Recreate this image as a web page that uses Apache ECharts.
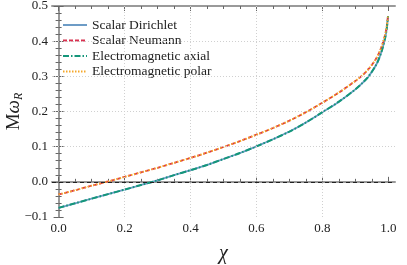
<!DOCTYPE html>
<html>
<head>
<meta charset="utf-8">
<script src="https://cdn.jsdelivr.net/npm/echarts@6/dist/echarts.min.js"></script>
<style>
html,body{margin:0;padding:0;background:#fff;}
#c{width:407px;height:265px;}
</style>
</head>
<body>
<div id="c"></div>
<script>
// ---- data ----
const chi = [0, 0.05, 0.1, 0.15, 0.2, 0.25, 0.3, 0.35, 0.4, 0.45, 0.5, 0.55, 0.6, 0.65, 0.7, 0.75, 0.8, 0.85, 0.9, 0.92, 0.94, 0.96, 0.97, 0.98, 0.99, 0.995, 0.999];
const scalarDirichlet = [-0.074, -0.061, -0.048, -0.035, -0.022, -0.009, 0.004, 0.019, 0.033, 0.048, 0.065, 0.082, 0.101, 0.121, 0.143, 0.169, 0.198, 0.228, 0.263, 0.280, 0.300, 0.328, 0.347, 0.373, 0.409, 0.436, 0.471];
const scalarNeumann = [-0.036, -0.024, -0.011, 0.001, 0.014, 0.027, 0.040, 0.054, 0.068, 0.083, 0.099, 0.116, 0.134, 0.153, 0.174, 0.198, 0.225, 0.254, 0.287, 0.302, 0.321, 0.346, 0.363, 0.386, 0.418, 0.442, 0.474];
const emAxial = [-0.074, -0.061, -0.048, -0.035, -0.022, -0.009, 0.004, 0.019, 0.033, 0.048, 0.065, 0.082, 0.101, 0.121, 0.143, 0.169, 0.198, 0.228, 0.263, 0.280, 0.300, 0.328, 0.347, 0.373, 0.409, 0.436, 0.471];
const emPolar = [-0.036, -0.024, -0.011, 0.001, 0.014, 0.027, 0.040, 0.054, 0.068, 0.083, 0.099, 0.116, 0.134, 0.153, 0.174, 0.198, 0.225, 0.254, 0.287, 0.302, 0.321, 0.346, 0.363, 0.386, 0.418, 0.442, 0.474];
const seriesNames = ['Scalar Dirichlet', 'Scalar Neumann', 'Electromagnetic axial', 'Electromagnetic polar'];
const xMajorTicks = [0, 0.2, 0.4, 0.6, 0.8, 1.0];
const xMinorTicks = [0.05, 0.1, 0.15, 0.25, 0.3, 0.35, 0.45, 0.5, 0.55, 0.65, 0.7, 0.75, 0.85, 0.9, 0.95];

const FONT = "'Liberation Serif','Times New Roman',serif";
const pair = (ys) => chi.map((x, i) => [x, ys[i]]);
const fmt = v => (v < 0 ? '\u2212' : '') + Math.abs(v).toFixed(1);
const frame = {show: true, lineStyle: {color: '#9a9a9a', width: 2}};

function xAx(pos, main, values, len) {
  return {
    type: 'value', position: pos, min: -0.02, max: 1.02,
    axisLine: main ? frame : {show: false},
    axisTick: {show: true, inside: true, length: len, customValues: values, lineStyle: {color: '#666', width: 1}},
    axisLabel: (pos === 'bottom' && main) ? {show: true, customValues: xMajorTicks, formatter: fmt, margin: 5, color: '#222', fontFamily: FONT, fontSize: 13} : {show: false},
    splitLine: {show: false}, minorSplitLine: {show: false}, minorTick: {show: false}
  };
}

const chart = echarts.init(document.getElementById('c'));
chart.setOption({
  backgroundColor: '#fff',
  animation: false,
  textStyle: {fontFamily: FONT},
  grid: {left: 52, right: 12, top: 6, bottom: 48, containLabel: false, outerBoundsMode: 'none'},
  legend: {
    orient: 'vertical', left: 62, top: 18, padding: 0, itemWidth: 24, itemHeight: 13, itemGap: 1.5,
    data: seriesNames,
    itemStyle: {opacity: 0, borderWidth: 0},
    textStyle: {fontFamily: FONT, fontSize: 13.5, color: '#222', lineHeight: 13}
  },
  xAxis: [
    Object.assign(xAx('bottom', true, xMajorTicks, 5), {
      name: 'χ', nameLocation: 'middle', nameGap: 27, nameMoveOverlap: false,
      nameTextStyle: {fontFamily: FONT, fontSize: 20, fontStyle: 'italic', color: '#222'}
    }),
    xAx('bottom', false, xMinorTicks, 3),
    xAx('top', true, xMajorTicks, 5),
    xAx('top', false, xMinorTicks, 3)
  ],
  yAxis: [
    {
      type: 'value', position: 'left', min: -0.1, max: 0.5, interval: 0.1,
      axisLine: frame,
      axisTick: {show: true, inside: true, length: 5, lineStyle: {color: '#666'}},
      minorTick: {show: true, splitNumber: 5, length: 3, lineStyle: {color: '#666'}},
      axisLabel: {formatter: fmt, margin: 4, color: '#222', fontFamily: FONT, fontSize: 13},
      splitLine: {show: false}, minorSplitLine: {show: false},
      name: '{m|M}{w|ω}{r|R}', nameLocation: 'middle', nameGap: 27, nameMoveOverlap: false,
      nameTextStyle: {
        color: '#222',
        rich: {
          m: {fontFamily: FONT, fontSize: 19, lineHeight: 22, color: '#222'},
          w: {fontFamily: FONT, fontSize: 19, fontStyle: 'italic', lineHeight: 22, color: '#222'},
          r: {fontFamily: FONT, fontSize: 12, fontStyle: 'italic', lineHeight: 16, verticalAlign: 'bottom', color: '#222'}
        }
      }
    },
    {
      type: 'value', position: 'right', min: -0.1, max: 0.5, interval: 0.1,
      axisLine: frame,
      axisTick: {show: true, inside: true, length: 5, lineStyle: {color: '#666'}},
      minorTick: {show: true, splitNumber: 5, length: 3, lineStyle: {color: '#666'}},
      axisLabel: {show: false},
      splitLine: {show: false}, minorSplitLine: {show: false}
    }
  ],
  series: [
    {
      type: 'line', data: [], silent: true, xAxisIndex: 0, yAxisIndex: 0,
      markLine: {
        silent: true, symbol: 'none', label: {show: false}, animation: false,
        lineStyle: {color: '#d0d0d0', type: [1, 2], width: 1},
        data: [{xAxis: 0.2}, {xAxis: 0.4}, {xAxis: 0.6}, {xAxis: 0.8},
               {yAxis: 0.1}, {yAxis: 0.2}, {yAxis: 0.3}, {yAxis: 0.4}]
      }
    },
    {
      name: seriesNames[0], type: 'line', data: pair(scalarDirichlet), symbol: 'none', smooth: 0.3,
      lineStyle: {color: '#6d9cc6', width: 1.8, type: 'solid'}, itemStyle: {color: '#6d9cc6'},
      markLine: {
        silent: true, symbol: 'none', label: {show: false},
        lineStyle: {color: '#222', type: [4, 3], width: 1},
        data: [{yAxis: 0}]
      }
    },
    {
      name: seriesNames[1], type: 'line', data: pair(scalarNeumann), symbol: 'none', smooth: 0.3,
      lineStyle: {color: '#d8304f', width: 1.8, type: [4, 2]}, itemStyle: {color: '#d8304f'}
    },
    {
      name: seriesNames[2], type: 'line', data: pair(emAxial), symbol: 'none', smooth: 0.3,
      lineStyle: {color: '#14967a', width: 2, type: [6, 2, 1.5, 2]}, itemStyle: {color: '#14967a'}
    },
    {
      name: seriesNames[3], type: 'line', data: pair(emPolar), symbol: 'none', smooth: 0.3,
      lineStyle: {color: '#f5a82a', width: 1.8, type: [1.5, 1.5]}, itemStyle: {color: '#f5a82a'}
    }
  ]
});
</script>
</body>
</html>
